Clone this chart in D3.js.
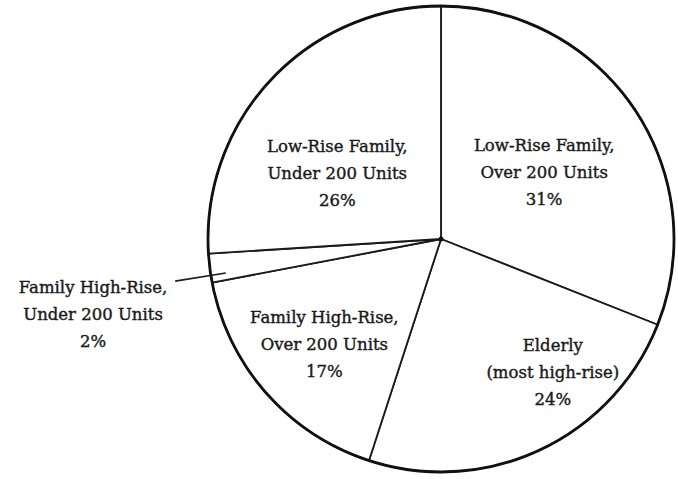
<!DOCTYPE html>
<html><head><meta charset="utf-8">
<script src="https://cdn.jsdelivr.net/npm/d3@7"></script>
<style>html,body{margin:0;padding:0;background:#fff;}svg{display:block;}</style>
</head><body>
<svg id="chart" width="678" height="479"></svg>
<script>
// Data
const categories = [
  ["Low-Rise Family,", "Over 200 Units"],
  ["Elderly", "(most high-rise)"],
  ["Family High-Rise,", "Over 200 Units"],
  ["Family High-Rise,", "Under 200 Units"],
  ["Low-Rise Family,", "Under 200 Units"]
];
const values = [31, 24, 17, 2, 26];
const valueLabels = ["31%", "24%", "17%", "2%", "26%"];

// Layout (label placement: polar offset from centre, degrees clockwise from top, radius)
const cx = 441, cy = 239, R = 233;
const labelPolar = [[57, 123], [140, 174], [228, 157], [257.8, 356], [302.5, 123]];
const leader = { slice: 3, angle: 261, inner: 0.935, outer: 1.155 };

const svg = d3.select("#chart");
const g = svg.append("g").attr("transform", `translate(${cx},${cy})`);

const pie = d3.pie().sort(null).value(d => d)(values);
const arc = d3.arc().innerRadius(0).outerRadius(R);

g.selectAll("path.slice").data(pie).join("path")
  .attr("class", "slice")
  .attr("d", arc)
  .attr("fill", "#fff")
  .attr("stroke", "#1a1a1a")
  .attr("stroke-width", 1.8)
  .attr("stroke-linejoin", "round");

g.append("circle").attr("r", R).attr("fill", "none")
  .attr("stroke", "#111").attr("stroke-width", 2.8);

// centre dot
g.append("circle").attr("r", 2.5).attr("fill", "#111");

// leader line for the small slice
const la = leader.angle * Math.PI / 180;
g.append("line")
  .attr("x1", Math.sin(la) * R * leader.inner).attr("y1", -Math.cos(la) * R * leader.inner)
  .attr("x2", Math.sin(la) * R * leader.outer).attr("y2", -Math.cos(la) * R * leader.outer)
  .attr("stroke", "#1a1a1a").attr("stroke-width", 1.6);

const lineH = 27;
pie.forEach((d, i) => {
  const [ang, rr] = labelPolar[i];
  const t = ang * Math.PI / 180;
  const x = Math.sin(t) * rr, y = -Math.cos(t) * rr;
  const lines = categories[i].concat([valueLabels[i]]);
  const text = g.append("text")
    .attr("text-anchor", "middle")
    .attr("font-family", "'DejaVu Serif', serif")
    .attr("font-size", 16.5)
    .attr("fill", "#1a1a1a")
    .attr("stroke", "#1a1a1a")
    .attr("stroke-width", 0.4);
  lines.forEach((s, j) => {
    text.append("tspan").attr("x", x).attr("y", y + (j - 1) * lineH + 6).text(s);
  });
});
</script>
</body></html>
